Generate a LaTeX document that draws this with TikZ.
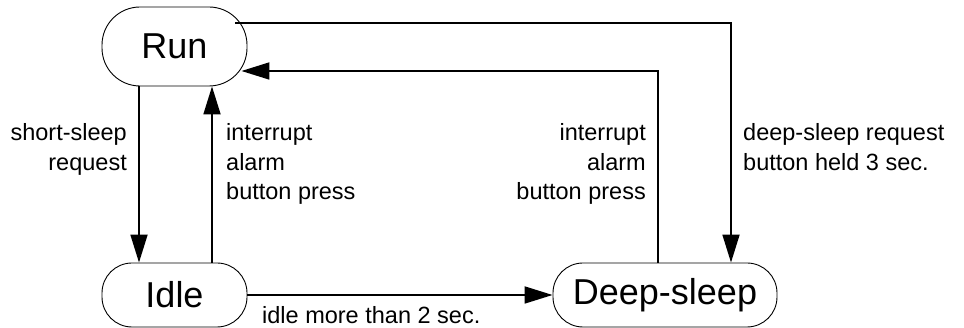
\documentclass[tikz,border=0pt]{standalone}
\usepackage{fontspec}
\setmainfont{Liberation Sans}
\usetikzlibrary{arrows.meta}

\begin{document}
\begin{tikzpicture}[x=1pt,y=1pt]
    \tikzstyle{state} = [rectangle, draw, line width=0.9pt, fill=white, inner sep=0pt, font=\fontsize{36}{40}\selectfont]
    \tikzstyle{lbl} = [inner sep=0pt, font=\fontsize{23.5}{29.5}\selectfont]
    \tikzstyle{flow} = [line width=1.8pt, -{Triangle[length=28pt,width=17pt]}]

    \useasboundingbox (0,0) rectangle (964,328);

    \node[state, rounded corners=38pt, minimum width=145pt, minimum height=79pt] (run) at (174.5,281.5) {Run};
    \node[state, rounded corners=30pt, minimum width=145pt, minimum height=64pt] (idle) at (174.5,33) {Idle};
    \node[state, rounded corners=30pt, minimum width=224pt, minimum height=64pt] (deep) at (665,33) {Deep-sleep};

    \node[lbl, align=right, anchor=east] (shortlbl) at (127,178.5) {short-sleep\\request};
    \node[lbl, align=left, anchor=west] (wakelbl) at (226,164) {interrupt\\alarm\\button press};
    \node[lbl, align=right, anchor=east] (deepwakelbl) at (646,164) {interrupt\\alarm\\button press};
    \node[lbl, align=left, anchor=west] (deeplbl) at (743,181) {deep-sleep request\\button held 3 sec.};
    \node[lbl, anchor=base west] (idlelbl) at (262,4) {idle more than 2 sec.};

    \draw[flow] ([xshift=-35.5pt]run.south) -- ([xshift=-35.5pt]idle.north);
    \draw[flow] ([xshift=37.5pt]idle.north) -- ([xshift=37.5pt]run.south);
    \draw[flow] (idle.east) -- (deep.west);
    \draw[flow] ([xshift=-12pt,yshift=23.5pt]run.east) -| ([xshift=66pt]deep.north);
    \draw[flow] ([xshift=-7pt]deep.north) |- ([xshift=-6pt,yshift=-24.5pt]run.east);
\end{tikzpicture}
\end{document}
